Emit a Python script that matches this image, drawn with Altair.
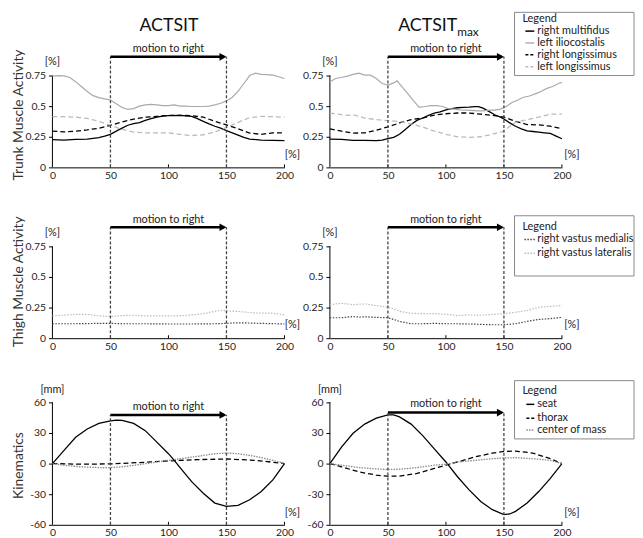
import altair as alt
import pandas as pd

FONT = "Lato"

# ---------------- data ----------------
X_TICKS = [0, 50, 100, 150, 200]
MOTION_X = [50, 150]

# ACTSIT - trunk
TL_ILIO_X = [0, 5, 10, 15, 20, 25, 30, 35, 40, 45, 50, 55, 60, 65, 70, 75, 80, 85, 90, 95, 100,
             105, 110, 115, 120, 125, 130, 135, 140, 145, 150, 155, 160, 165, 170, 175, 180, 185, 190, 195, 200]
TL_ILIO_Y = [0.745, 0.75, 0.747, 0.734, 0.70, 0.66, 0.62, 0.586, 0.57, 0.56, 0.55, 0.52, 0.49, 0.473, 0.48,
             0.50, 0.51, 0.515, 0.51, 0.505, 0.505, 0.51, 0.50, 0.50, 0.497, 0.497, 0.497, 0.50, 0.51, 0.524,
             0.543, 0.573, 0.62, 0.685, 0.75, 0.77, 0.76, 0.758, 0.753, 0.74, 0.726]
TL_MULT_X = [0, 10, 20, 30, 40, 45, 50, 55, 60, 65, 70, 75, 80, 85, 90, 95, 100, 110, 120, 125, 130,
             135, 140, 145, 150, 155, 160, 165, 170, 180, 190, 200]
TL_MULT_Y = [0.226, 0.223, 0.228, 0.23, 0.242, 0.255, 0.27, 0.296, 0.32, 0.344, 0.357, 0.366, 0.384, 0.398,
             0.41, 0.419, 0.422, 0.425, 0.417, 0.398, 0.376, 0.355, 0.336, 0.32, 0.30, 0.282, 0.263, 0.245,
             0.231, 0.223, 0.22, 0.218]
X10 = [0, 10, 20, 30, 40, 50, 60, 70, 80, 90, 100, 110, 120, 130, 140, 150, 160, 170, 180, 190, 200]
TL_RLONG_Y = [0.296, 0.29, 0.296, 0.306, 0.32, 0.344, 0.37, 0.395, 0.41, 0.417, 0.425, 0.425, 0.422, 0.41,
              0.376, 0.347, 0.315, 0.28, 0.27, 0.282, 0.282]
TL_LLONG_Y = [0.414, 0.414, 0.41, 0.40, 0.376, 0.344, 0.31, 0.288, 0.282, 0.282, 0.282, 0.27, 0.26, 0.266,
              0.29, 0.325, 0.368, 0.406, 0.417, 0.414, 0.409]

# ACTSITmax - trunk
TR_ILIO_X = [0, 5, 10, 15, 20, 25, 30, 35, 40, 45, 50, 55, 58, 62, 67, 72, 77, 82, 87, 92, 97, 102, 107,
             112, 117, 122, 127, 132, 137, 142, 147, 152, 157, 162, 167, 172, 177, 182, 187, 192, 197, 200]
TR_ILIO_Y = [0.70, 0.726, 0.734, 0.745, 0.76, 0.77, 0.753, 0.753, 0.726, 0.685, 0.672, 0.69, 0.707, 0.66,
             0.605, 0.546, 0.49, 0.497, 0.505, 0.505, 0.497, 0.48, 0.476, 0.47, 0.468, 0.465, 0.462, 0.462,
             0.468, 0.468, 0.476, 0.497, 0.53, 0.55, 0.573, 0.583, 0.60, 0.62, 0.645, 0.66, 0.685, 0.694]
TR_MULT_X = [0, 10, 20, 30, 40, 45, 50, 55, 60, 65, 70, 75, 80, 85, 90, 95, 100, 105, 110, 115, 120, 125,
             128, 132, 137, 142, 147, 150, 155, 160, 165, 170, 175, 180, 185, 190, 195, 200]
TR_MULT_Y = [0.23, 0.228, 0.22, 0.22, 0.218, 0.223, 0.234, 0.245, 0.27, 0.31, 0.35, 0.384, 0.403, 0.425,
             0.444, 0.454, 0.47, 0.48, 0.487, 0.49, 0.492, 0.497, 0.497, 0.484, 0.457, 0.43, 0.41, 0.395,
             0.363, 0.336, 0.315, 0.298, 0.293, 0.288, 0.282, 0.277, 0.255, 0.234]
TR_RLONG_Y = [0.315, 0.296, 0.28, 0.282, 0.304, 0.33, 0.363, 0.39, 0.403, 0.427, 0.438, 0.444, 0.444, 0.435,
              0.425, 0.41, 0.376, 0.35, 0.347, 0.336, 0.315]
TR_LLONG_X = [0, 10, 15, 20, 25, 30, 40, 50, 60, 70, 80, 90, 100, 110, 120, 130, 140, 150, 155, 160, 170,
              180, 190, 200]
TR_LLONG_Y = [0.444, 0.43, 0.425, 0.43, 0.417, 0.403, 0.39, 0.382, 0.374, 0.355, 0.33, 0.296, 0.27, 0.25,
              0.245, 0.25, 0.27, 0.296, 0.336, 0.368, 0.39, 0.41, 0.435, 0.435]

# ACTSIT - thigh
ML_LAT_X = [0, 20, 30, 40, 50, 60, 70, 80, 90, 100, 110, 120, 130, 140, 145, 150, 160, 170, 180, 190, 200]
ML_LAT_Y = [0.183, 0.194, 0.194, 0.183, 0.177, 0.185, 0.188, 0.183, 0.183, 0.183, 0.183, 0.19, 0.20, 0.22,
            0.226, 0.223, 0.218, 0.21, 0.204, 0.204, 0.19]
ML_MED_X = [0, 20, 40, 50, 60, 80, 100, 120, 140, 150, 160, 170, 180, 200]
ML_MED_Y = [0.118, 0.118, 0.121, 0.121, 0.118, 0.118, 0.116, 0.116, 0.118, 0.121, 0.126, 0.124, 0.121, 0.116]

# ACTSITmax - thigh
MR_LAT_X = [0, 5, 10, 20, 30, 40, 50, 55, 60, 70, 80, 90, 100, 110, 120, 130, 140, 150, 160, 170, 180, 190, 200]
MR_LAT_Y = [0.274, 0.28, 0.285, 0.274, 0.28, 0.266, 0.253, 0.24, 0.22, 0.204, 0.20, 0.20, 0.196, 0.185, 0.19,
            0.188, 0.194, 0.20, 0.212, 0.226, 0.253, 0.26, 0.266]
MR_MED_X = [0, 10, 20, 25, 30, 40, 50, 55, 60, 70, 80, 90, 100, 110, 120, 130, 140, 150, 160, 170, 180, 190, 200]
MR_MED_Y = [0.167, 0.167, 0.177, 0.172, 0.175, 0.17, 0.167, 0.153, 0.137, 0.118, 0.118, 0.121, 0.118, 0.118,
            0.116, 0.113, 0.11, 0.11, 0.118, 0.137, 0.153, 0.16, 0.17]

# ACTSIT - kinematics
BL_SEAT_X = [0, 10, 20, 30, 40, 50, 55, 60, 70, 80, 90, 100, 105, 110, 120, 130, 140, 150, 160, 170, 180, 190, 200]
BL_SEAT_Y = [0, 12.9, 25.8, 33.9, 39.4, 41.9, 42.6, 42.3, 39.4, 32.3, 21, 9.7, 3.2, -3.9, -17.7, -29, -38.7,
             -41.9, -41, -35.5, -27.4, -16, 0]
BL_THOR_X = [0, 25, 50, 75, 100, 125, 150, 175, 200]
BL_THOR_Y = [0, -0.6, -0.3, 1, 2.6, 3.9, 4.5, 3.2, 0]
K_X = [0, 10, 25, 40, 50, 60, 75, 90, 100, 110, 125, 140, 150, 160, 175, 190, 200]
BL_COM_Y = [0, -1.6, -3.2, -3.9, -3.9, -3.2, -1, 1.6, 3.2, 4.8, 7.1, 9.7, 10.3, 9.7, 7.1, 3.2, 0]

# ACTSITmax - kinematics
BR_SEAT_X = [0, 10, 20, 30, 40, 50, 55, 60, 70, 80, 90, 100, 110, 120, 130, 140, 150, 155, 160, 170, 180, 190, 200]
BR_SEAT_Y = [0, 16.1, 29.7, 38.7, 44.5, 47.7, 47.7, 45.8, 38.7, 27.4, 14.5, 1.6, -12.9, -25.8, -37.1, -45.2,
             -50, -49.4, -46.8, -38.7, -27.4, -14.5, 0]
BR_THOR_Y = [0, -3.2, -8.1, -11.3, -12.3, -12.3, -9.7, -4.8, -1.6, 1.6, 6.5, 10.3, 11.9, 12.3, 10.3, 4.8, 0]
BR_COM_Y = [0, -1.6, -3.9, -5.2, -5.8, -5.5, -3.9, -1.6, -0.6, 1.6, 3.2, 4.8, 5.5, 5.8, 4.8, 3.2, 0]

TRUNK_NAMES = ["right multifidus", "left iliocostalis", "right longissimus", "left longissimus"]
THIGH_NAMES = ["right vastus medialis", "right vastus lateralis"]
KIN_NAMES = ["seat", "thorax", "center of mass"]

# ---------------- styles ----------------
STYLE = {
    "right multifidus": dict(color="#000000", width=1.3, dash=None),
    "left iliocostalis": dict(color="#aaaaaa", width=1.2, dash=None),
    "right longissimus": dict(color="#000000", width=1.3, dash=[5, 3]),
    "left longissimus": dict(color="#bbbbbb", width=1.3, dash=[5, 3]),
    "right vastus medialis": dict(color="#444444", width=1.2, dash=[1.5, 1.5]),
    "right vastus lateralis": dict(color="#bbbbbb", width=1.2, dash=[1.5, 1.5]),
    "seat": dict(color="#000000", width=1.3, dash=None),
    "thorax": dict(color="#000000", width=1.3, dash=[5, 3]),
    "center of mass": dict(color="#888888", width=1.3, dash=[1.5, 1.2]),
}

XSCALE = alt.Scale(domain=[0, 200], nice=False, zero=False)
XAXIS = alt.Axis(values=X_TICKS, title=None, grid=False, ticks=False, tickSize=0, domainColor="#000000",
                 domainWidth=1, labelPadding=3, labelFontSize=10.5, labelFont=FONT, labelColor="#222222",
                 labelFlush=False, labelOverlap=False)
ARROW_PATH = "M0,0 L-2,-1.1 L-2,1.1 Z"
ONE = pd.DataFrame({"a": [0]})


def yaxis(vals):
    return alt.Axis(values=vals, title=None, grid=False, domain=False, ticks=True, tickSize=4,
                    tickColor="#000000", tickWidth=1, labelPadding=3, labelFontSize=10.5, labelFont=FONT,
                    labelColor="#222222", labelFlush=False, labelOverlap=False, labelExpr="datum.value + ''")


def txt(s, px, py, size=11, align="center", color="#222222", angle=None, baseline="middle"):
    kw = dict(font=FONT, fontSize=size, align=align, baseline=baseline, color=color)
    if angle is not None:
        kw["angle"] = angle
    return alt.Chart(ONE).mark_text(**kw).encode(x=alt.value(px), y=alt.value(py), text=alt.value(s))


def legend_layers(box, title_y, items, line_x, text_x):
    x1, x2, y1, y2 = box
    out = [alt.Chart(ONE).mark_rect(fill="white", stroke="#888888", strokeWidth=1).encode(
        x=alt.value(x1), x2=alt.value(x2), y=alt.value(y1), y2=alt.value(y2))]
    out.append(txt("Legend", x1 + 8, title_y, align="left"))
    for name, py in items:
        st = STYLE[name]
        kw = dict(color=st["color"], strokeWidth=st["width"] + 0.2)
        if st["dash"]:
            kw["strokeDash"] = [3, 2] if st["dash"][0] > 2 else st["dash"]
        out.append(alt.Chart(ONE).mark_rule(**kw).encode(
            x=alt.value(line_x[0]), x2=alt.value(line_x[1]), y=alt.value(py)))
        out.append(txt(name, text_x, py, align="left"))
    return out


def make_panel(series, ydom, yvals, arrow_y, text_y, height, px_per_unit, annotations):
    ysc = alt.Scale(domain=ydom, nice=False, zero=False)
    ya = yaxis(yvals)

    def enc(**extra):
        d = dict(x=alt.X("x:Q", scale=XSCALE, axis=XAXIS), y=alt.Y("y:Q", scale=ysc, axis=ya))
        d.update(extra)
        return d

    layers = []
    # y axis line (0 .. top tick)
    layers.append(alt.Chart(pd.DataFrame({"x": [0], "y": [ydom[0]], "y2": [yvals[-1]]}))
                  .mark_rule(color="#000000", strokeWidth=1).encode(**enc(y2="y2:Q")))
    # inward x ticks
    tl = 3.0 / px_per_unit
    layers.append(alt.Chart(pd.DataFrame({"x": X_TICKS[1:], "y": [ydom[0]] * 4, "y2": [ydom[0] + tl] * 4}))
                  .mark_rule(color="#000000", strokeWidth=1).encode(**enc(y2="y2:Q")))
    # data lines
    for name, xs, ys in series:
        st = STYLE[name]
        kw = dict(color=st["color"], strokeWidth=st["width"])
        if st["dash"]:
            kw["strokeDash"] = st["dash"]
        layers.append(alt.Chart(pd.DataFrame({"x": xs, "y": ys})).mark_line(**kw).encode(**enc()))
    # motion markers
    layers.append(alt.Chart(pd.DataFrame({"x": MOTION_X, "y": [ydom[0]] * 2, "y2": [arrow_y] * 2}))
                  .mark_rule(color="#444444", strokeDash=[3, 2], strokeWidth=1.3).encode(**enc(y2="y2:Q")))
    layers.append(alt.Chart(pd.DataFrame({"x": [MOTION_X[0]], "x2": [MOTION_X[1] - 2], "y": [arrow_y]}))
                  .mark_rule(color="#000000", strokeWidth=2.5).encode(**enc(x2="x2:Q")))
    layers.append(alt.Chart(pd.DataFrame({"x": [MOTION_X[1]], "y": [arrow_y]}))
                  .mark_point(shape=ARROW_PATH, filled=True, color="#000000", size=50, opacity=1,
                              strokeWidth=0).encode(**enc()))
    layers.append(alt.Chart(pd.DataFrame({"x": [sum(MOTION_X) / 2], "y": [text_y], "t": ["motion to right"]}))
                  .mark_text(font=FONT, fontSize=11, color="#222222").encode(**enc(text="t:N")))
    layers += annotations
    return alt.layer(*layers).properties(width=235, height=height)


TOP_T = [0, 0.25, 0.5, 0.75]
KIN_T = [-60, -30, 0, 30, 60]
MID_TOP = 0.75 * 108 / 93
YT_X = -34

tl = make_panel(
    [("right multifidus", TL_MULT_X, TL_MULT_Y), ("left iliocostalis", TL_ILIO_X, TL_ILIO_Y),
     ("right longissimus", X10, TL_RLONG_Y), ("left longissimus", X10, TL_LLONG_Y)],
    [0, 0.75], TOP_T, 0.903, 0.968, 93, 124,
    [txt("ACTSIT", 118, -50, size=18, color="#111111"),
     txt("Trunk Muscle Activity", YT_X, 40, size=14, angle=270, color="#333333"),
     txt("[%]", 0, -14), txt("[%]", 243, 81)])

tr = make_panel(
    [("right multifidus", TR_MULT_X, TR_MULT_Y), ("left iliocostalis", TR_ILIO_X, TR_ILIO_Y),
     ("right longissimus", X10, TR_RLONG_Y), ("left longissimus", TR_LLONG_X, TR_LLONG_Y)],
    [0, 0.75], TOP_T, 0.903, 0.968, 93, 124,
    [txt("ACTSIT", 129, -50, size=18, align="right", color="#111111"),
     txt("max", 129, -44, size=12, align="left", color="#111111"),
     txt("[%]", 0, -14), txt("[%]", 245, 81)]
    + legend_layers((187, 308, -64, 0), -57,
                    [(n, y) for n, y in zip(TRUNK_NAMES, [-45, -33, -21, -9])], (198, 207), 210))

ml = make_panel(
    [("right vastus lateralis", ML_LAT_X, ML_LAT_Y), ("right vastus medialis", ML_MED_X, ML_MED_Y)],
    [0, MID_TOP], TOP_T, 0.906, 0.968, 108, 124,
    [txt("Thigh Muscle Activity", YT_X, 51, size=14, angle=270, color="#333333"),
     txt("[%]", 0, 1), txt("[%]", 243, 95)])

mr = make_panel(
    [("right vastus lateralis", MR_LAT_X, MR_LAT_Y), ("right vastus medialis", MR_MED_X, MR_MED_Y)],
    [0, MID_TOP], TOP_T, 0.906, 0.968, 108, 124,
    [txt("[%]", 0, 1), txt("[%]", 245, 95)]
    + legend_layers((187, 308, -16, 45), -5,
                    [(n, y) for n, y in zip(THIGH_NAMES, [8, 22])], (197, 208), 210))

bl = make_panel(
    [("seat", BL_SEAT_X, BL_SEAT_Y), ("thorax", BL_THOR_X, BL_THOR_Y), ("center of mass", K_X, BL_COM_Y)],
    [-60, 60], KIN_T, 47.7, 55.5, 124, 124 / 120,
    [txt("Kinematics", YT_X, 64, size=14, angle=270, color="#333333"),
     txt("[mm]", 0, -13), txt("[%]", 243, 112)])

br = make_panel(
    [("seat", BR_SEAT_X, BR_SEAT_Y), ("thorax", K_X, BR_THOR_Y), ("center of mass", K_X, BR_COM_Y)],
    [-60, 60], KIN_T, 50, 58, 124, 124 / 120,
    [txt("[mm]", 0, -13), txt("[%]", 245, 112)]
    + legend_layers((187, 308, -22, 37), -11,
                    [(n, y) for n, y in zip(KIN_NAMES, [2, 16, 28])], (199, 207), 210))

chart = alt.concat(tl, tr, ml, mr, bl, br, columns=2, spacing={"row": 65, "column": 46},
                   bounds="flush", align="each").properties(
    padding={"left": 3, "top": 0, "right": 0, "bottom": 0}).configure_view(stroke=None)

chart.save("out.html", embed_options={"renderer": "svg", "actions": False})
